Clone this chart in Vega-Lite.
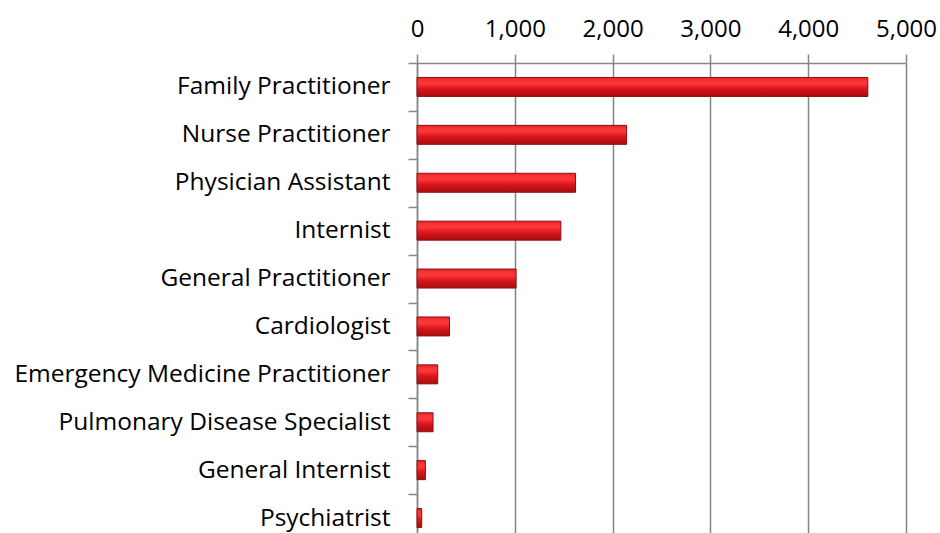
{
  "$schema": "https://vega.github.io/schema/vega-lite/v6.json",
  "autosize": {"type": "none"},
  "width": 489,
  "height": 470,
  "padding": {"left": 417, "top": 63, "right": 34, "bottom": 0},
  "background": "white",
  "config": {"view": {"stroke": null}},
  "data": {"values": [
    {"specialty": "Family Practitioner", "count": 4610},
    {"specialty": "Nurse Practitioner", "count": 2143},
    {"specialty": "Physician Assistant", "count": 1621},
    {"specialty": "Internist", "count": 1471},
    {"specialty": "General Practitioner", "count": 1013},
    {"specialty": "Cardiologist", "count": 332},
    {"specialty": "Emergency Medicine Practitioner", "count": 212},
    {"specialty": "Pulmonary Disease Specialist", "count": 164},
    {"specialty": "General Internist", "count": 86},
    {"specialty": "Psychiatrist", "count": 48}
  ]},
  "mark": {
    "type": "bar",
    "size": 19,
    "color": {
      "gradient": "linear", "x1": 0, "y1": 0, "x2": 0, "y2": 1,
      "stops": [
        {"offset": 0, "color": "#e8262c"},
        {"offset": 0.3, "color": "#ff3a3a"},
        {"offset": 0.6, "color": "#d8161c"},
        {"offset": 1, "color": "#a80c10"}
      ]
    },
    "stroke": "#8a1014",
    "strokeWidth": 1
  },
  "encoding": {
    "y": {
      "field": "specialty",
      "type": "nominal",
      "sort": null,
      "title": null,
      "scale": {"range": [0, 479], "paddingInner": 0, "paddingOuter": 0},
      "axis": {
        "orient": "left",
        "tickBand": "extent",
        "tickSize": 9,
        "tickColor": "#868686",
        "tickWidth": 1.5,
        "domainColor": "#868686",
        "domainWidth": 1.5,
        "labelPadding": 18,
        "labelFont": "Open Sans",
        "labelFontSize": 24.5,
        "labelColor": "#000000",
        "labelLimit": 500,
        "grid": false
      }
    },
    "x": {
      "field": "count",
      "type": "quantitative",
      "title": null,
      "scale": {"domain": [0, 5000], "nice": false},
      "axis": {
        "orient": "top",
        "values": [0, 1000, 2000, 3000, 4000, 5000],
        "format": ",d",
        "tickSize": 9,
        "tickColor": "#868686",
        "tickWidth": 1.5,
        "domainColor": "#868686",
        "domainWidth": 1.5,
        "grid": true,
        "gridColor": "#868686",
        "gridWidth": 1.5,
        "gridOpacity": 1,
        "labelPadding": 13,
        "labelFont": "Open Sans",
        "labelFontSize": 24,
        "labelColor": "#000000",
        "labelFlush": false
      }
    }
  }
}
